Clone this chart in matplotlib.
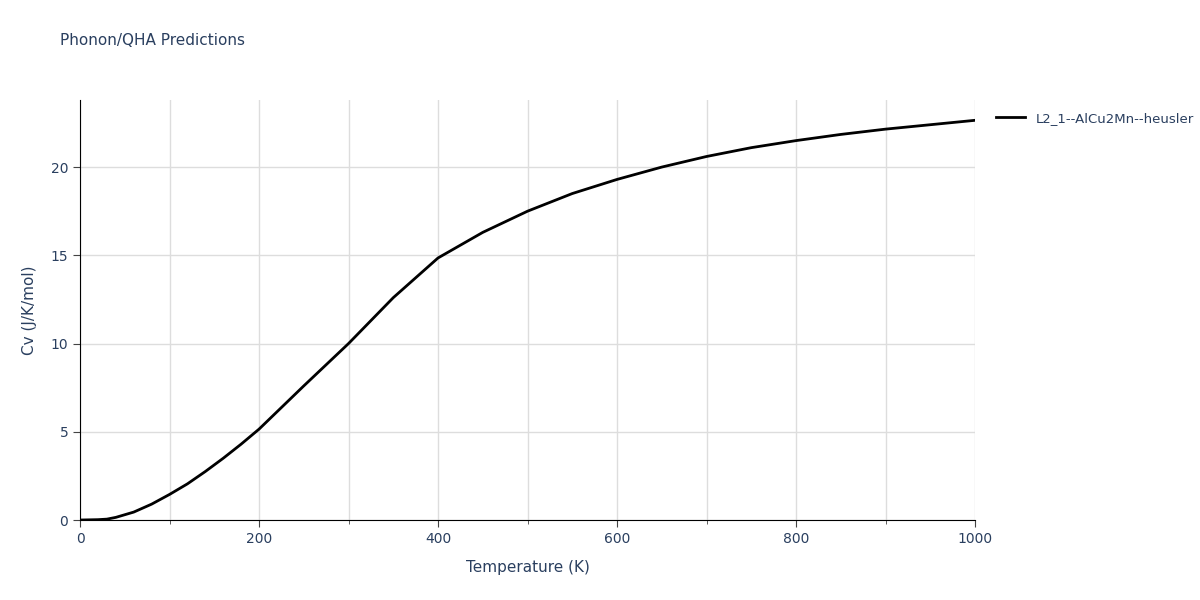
import matplotlib
matplotlib.use("Agg")
import matplotlib.pyplot as plt
from matplotlib.ticker import MultipleLocator

temps = [0, 20, 30, 40, 50, 60, 80, 100, 120, 140, 160, 180, 200, 250, 300, 350, 400, 450, 500, 550, 600, 650, 700, 750, 800, 850, 900, 950, 1000]
cv = [0, 0.02, 0.05, 0.15, 0.3, 0.45, 0.9, 1.45, 2.05, 2.75, 3.5, 4.3, 5.15, 7.6, 10.0, 12.6, 14.85, 16.3, 17.5, 18.5, 19.3, 20.0, 20.6, 21.1, 21.5, 21.85, 22.15, 22.4, 22.65]
series_name = "L2_1--AlCu2Mn--heusler"

fig = plt.figure(figsize=(12, 6), dpi=100)
ax = fig.add_axes([0.0667, 0.1333, 0.7458, 0.7])
ax.plot(temps, cv, color="black", lw=2, label=series_name)
ax.set_xlim(0, 1000)
ax.set_ylim(0, 23.8)
ax.xaxis.set_major_locator(MultipleLocator(200))
ax.xaxis.set_minor_locator(MultipleLocator(100))
ax.yaxis.set_major_locator(MultipleLocator(5))
ax.grid(True, which="both", axis="x", color="#dddddd", lw=1)
ax.grid(True, which="major", axis="y", color="#dddddd", lw=1)
ax.set_axisbelow(True)
for s in ["top", "right"]:
    ax.spines[s].set_visible(False)
tc = "#2a3f5f"
ax.tick_params(colors="#444444", labelcolor=tc, labelsize=10, length=5)
ax.tick_params(which="minor", length=3, color="#444444")
ax.set_xlabel("Temperature (K)", color=tc, fontsize=11, labelpad=10)
ax.set_ylabel("Cv (J/K/mol)", color=tc, fontsize=11, labelpad=10)
fig.text(0.05, 0.925, "Phonon/QHA Predictions", color=tc, fontsize=11)
ax.legend(loc="upper left", bbox_to_anchor=(1.01, 1.0), frameon=False, fontsize=9.5, labelcolor=tc, handlelength=2.2)
fig.savefig("out.png")
